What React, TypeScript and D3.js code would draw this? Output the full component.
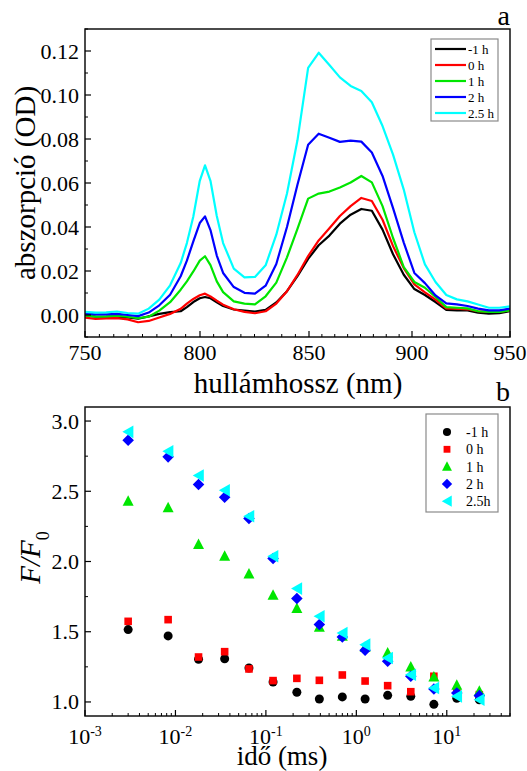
import React from 'react';
import * as d3 from 'd3';

// ---------- Panel a: absorption spectra ----------
const wavelengths = [750,754.6,759.2,763.9,768.5,773.1,777.7,782.3,787.0,791.6,794.3,797.1,799.9,802.3,804.8,807.7,810.6,815.5,820.4,825.2,830.1,835.0,839.9,844.7,849.6,854.7,859.9,865.0,870.2,875.4,880.5,885.7,890.8,896.0,901.2,906.6,912.0,917.5,922.9,928.3,933.7,939.2,944.6,950];
const absM1 = [-0.0002,-0.0007,-0.0008,-0.0007,-0.0011,-0.0017,-0.0006,0.0005,0.0013,0.0017,0.0036,0.0059,0.0076,0.0082,0.0076,0.0058,0.0041,0.0025,0.0020,0.0016,0.0023,0.0057,0.0108,0.0177,0.0255,0.0317,0.0361,0.0415,0.0456,0.0482,0.0474,0.0388,0.0276,0.0183,0.0118,0.0091,0.0059,0.0023,0.0021,0.0021,0.0011,0.0006,0.0008,0.0018];
const absH0 = [-0.0012,-0.0018,-0.0015,-0.0014,-0.0020,-0.0033,-0.0027,-0.0011,0.0005,0.0028,0.0052,0.0073,0.0090,0.0097,0.0084,0.0065,0.0047,0.0026,0.0014,0.0008,0.0017,0.0052,0.0108,0.0182,0.0268,0.0339,0.0394,0.0450,0.0495,0.0532,0.0518,0.0433,0.0313,0.0213,0.0139,0.0103,0.0070,0.0030,0.0029,0.0026,0.0017,0.0014,0.0015,0.0021];
const absH1 = [-0.0002,-0.0007,-0.0006,-0.0003,-0.0008,-0.0014,-0.0008,0.0020,0.0058,0.0115,0.0153,0.0198,0.0247,0.0267,0.0227,0.0153,0.0104,0.0062,0.0052,0.0048,0.0085,0.0147,0.0262,0.0391,0.0529,0.0552,0.0561,0.0580,0.0602,0.0632,0.0603,0.0495,0.0350,0.0218,0.0150,0.0124,0.0082,0.0036,0.0033,0.0030,0.0017,0.0014,0.0014,0.0021];
const absH2 = [0.0006,0.0003,0.0003,0.0005,0.0000,-0.0005,0.0011,0.0044,0.0092,0.0176,0.0247,0.0335,0.0418,0.0448,0.0386,0.0270,0.0191,0.0127,0.0101,0.0097,0.0133,0.0232,0.0400,0.0592,0.0774,0.0824,0.0806,0.0787,0.0793,0.0788,0.0739,0.0632,0.0486,0.0329,0.0191,0.0145,0.0089,0.0053,0.0048,0.0041,0.0029,0.0021,0.0021,0.0029];
const absH25 = [0.0014,0.0011,0.0012,0.0016,0.0009,0.0006,0.0029,0.0070,0.0135,0.0236,0.0327,0.0448,0.0610,0.0680,0.0610,0.0450,0.0327,0.0211,0.0171,0.0173,0.0226,0.0365,0.0552,0.0794,0.1123,0.1192,0.1136,0.1080,0.1041,0.1018,0.0967,0.0859,0.0729,0.0570,0.0376,0.0230,0.0150,0.0091,0.0071,0.0062,0.0048,0.0033,0.0033,0.0039];
const spectraLabels = ['-1 h', '0 h', '1 h', '2 h', '2.5 h'];
const xTicksA = [750, 800, 850, 900, 950];
const yTicksA = [0, 0.02, 0.04, 0.06, 0.08, 0.1, 0.12];

// ---------- Panel b: F/F0 vs time ----------
const times = [0.003, 0.0083, 0.018, 0.035, 0.065, 0.12, 0.22, 0.39, 0.70, 1.25, 2.22, 4.0, 7.2, 12.9, 22.9];
const ffM1 = [1.515,1.470,1.304,1.308,1.242,1.142,1.069,1.021,1.036,1.021,1.047,1.040,0.983,1.026,1.016];
const ffH0 = [1.574,1.586,1.320,1.358,1.235,1.152,1.168,1.154,1.192,1.149,1.116,1.073,1.183,1.076,1.052];
const ffH1 = [2.429,2.382,2.121,2.037,1.911,1.759,1.665,1.532,1.468,1.390,1.349,1.249,1.178,1.119,1.076];
const ffH2 = [2.863,2.745,2.548,2.458,2.306,2.021,1.736,1.551,1.463,1.368,1.290,1.183,1.092,1.064,1.045];
const ffH25 = [2.923,2.785,2.612,2.507,2.322,2.037,1.807,1.610,1.491,1.408,1.313,1.194,1.099,1.040,1.016];
const fluoLabels = ['-1 h', '0 h', '1 h', '2 h', '2.5h'];
const xTicksB = [-3, -2, -1, 0, 1];
const yTicksB = [1.0, 1.5, 2.0, 2.5, 3.0];

const colors = ['#000000', '#ff0000', '#00e600', '#0000ff', '#00ffff'];
const FONT = '"Liberation Serif", "Times New Roman", serif';

const A = { l: 85, r: 510, t: 29, b: 337 };
const B = { l: 85, r: 510, t: 407, b: 716 };
// the reference's wavelength axis is not evenly spaced: tick positions read from it
const xTickPixelsA = [85, 200, 309, 412, 510];

function markerPath(kind: number, s: number): string {
  switch (kind) {
    case 0: return d3.symbol(d3.symbolCircle, s * s * 0.785)() as string;
    case 1: return `M${-s / 2},${-s / 2}H${s / 2}V${s / 2}H${-s / 2}Z`;
    case 2: return `M0,${-s * 0.6}L${s * 0.55},${s * 0.45}L${-s * 0.55},${s * 0.45}Z`;
    case 3: return `M0,${-s * 0.55}L${s * 0.55},0L0,${s * 0.55}L${-s * 0.55},0Z`;
    default: return `M${-s * 0.55},0L${s * 0.5},${-s * 0.6}L${s * 0.5},${s * 0.6}Z`;
  }
}
const markerSizes = [9, 7.6, 10, 10.5, 10.5];

export default function App() {
  const xA = d3.scaleLinear().domain(xTicksA).range(xTickPixelsA);
  const yA = d3.scaleLinear().domain([-0.01, 0.13]).range([A.b, A.t]);
  const xB = d3.scaleLog().domain([1e-3, 50]).range([B.l, B.r]);
  const yB = d3.scaleLinear().domain([0.9, 3.1]).range([B.b, B.t]);

  const spectra = [absM1, absH0, absH1, absH2, absH25];
  const fluo = [ffM1, ffH0, ffH1, ffH2, ffH25];

  const line = d3.line<number>()
    .x((_, i) => xA(wavelengths[i]))
    .y((d) => yA(d));

  const minorXA = d3.range(750, 950.01, 6.25).filter((v) => !xTicksA.includes(v));
  const minorYA = d3.range(-0.01, 0.1301, 0.01).filter((v) => !yTicksA.some((t) => Math.abs(t - v) < 1e-6));
  const minorYB = d3.range(1.25, 3.01, 0.5);
  const minorXB: number[] = [];
  for (let e = -3; e <= 1; e++) for (let m = 2; m <= 9; m++) { const v = m * Math.pow(10, e); if (v <= 50) minorXB.push(v); }

  const tick = '#000';
  return (
    <svg width={527} height={771} style={{ position: 'absolute', left: 0, top: 0, background: '#fff' }} fontFamily={FONT}>
      <defs>
        <clipPath id="clipA"><rect x={A.l} y={A.t} width={A.r - A.l} height={A.b - A.t} /></clipPath>
      </defs>
      {/* ----- Panel a ----- */}
      <g clipPath="url(#clipA)">
        {spectra.map((s, k) => (
          <path key={k} d={line(s) as string} fill="none" stroke={colors[k]} strokeWidth={2.2} strokeLinejoin="round" />
        ))}
      </g>
      <rect x={A.l} y={A.t} width={A.r - A.l} height={A.b - A.t} fill="none" stroke="#111" strokeWidth={1.5} />
      {xTicksA.map((v) => (
        <g key={v}>
          <line x1={xA(v)} x2={xA(v)} y1={A.b} y2={A.b - 6} stroke={tick} strokeWidth={1.2} />
          <text x={xA(v)} y={360} fontSize={22} textAnchor="middle">{v}</text>
        </g>
      ))}
      {minorXA.map((v) => (
        <line key={v} x1={xA(v)} x2={xA(v)} y1={A.b} y2={A.b - 3} stroke={tick} strokeWidth={1} />
      ))}
      {yTicksA.map((v) => (
        <g key={v}>
          <line x1={A.l} x2={A.l + 6} y1={yA(v)} y2={yA(v)} stroke={tick} strokeWidth={1.2} />
          <text x={79} y={yA(v) + 7.5} fontSize={22} textAnchor="end">{v.toFixed(2)}</text>
        </g>
      ))}
      {minorYA.map((v) => (
        <line key={v} x1={A.l} x2={A.l + 3} y1={yA(v)} y2={yA(v)} stroke={tick} strokeWidth={1} />
      ))}
      <text x={298} y={393} fontSize={29} textAnchor="middle">hullámhossz (nm)</text>
      <text transform={`translate(35,${(A.t + A.b) / 2}) rotate(-90)`} fontSize={29} textAnchor="middle">abszorpció (OD)</text>
      <text x={510} y={25} fontSize={28} textAnchor="end">a</text>
      {/* legend a */}
      <rect x={431} y={39} width={67} height={82} fill="#fff" stroke="#8a8a8a" strokeWidth={1.2} />
      {spectraLabels.map((lab, k) => (
        <g key={lab}>
          <line x1={435} x2={466} y1={49 + k * 16} y2={49 + k * 16} stroke={colors[k]} strokeWidth={2.2} />
          <text x={468} y={49 + k * 16 + 4.5} fontSize={13}>{lab}</text>
        </g>
      ))}

      {/* ----- Panel b ----- */}
      {fluo.map((s, k) => (
        <g key={k}>
          {s.map((v, i) => (
            <path key={i} d={markerPath(k, markerSizes[k])} transform={`translate(${xB(times[i])},${yB(v)})`} fill={colors[k]} />
          ))}
        </g>
      ))}
      <rect x={B.l} y={B.t} width={B.r - B.l} height={B.b - B.t} fill="none" stroke="#111" strokeWidth={1.5} />
      {xTicksB.map((e) => (
        <g key={e}>
          <line x1={xB(Math.pow(10, e))} x2={xB(Math.pow(10, e))} y1={B.b} y2={B.b - 6} stroke={tick} strokeWidth={1.2} />
          <text x={xB(Math.pow(10, e))} y={744} fontSize={22} textAnchor="middle">
            10<tspan fontSize={14} dy={-8}>{e}</tspan>
          </text>
        </g>
      ))}
      {minorXB.map((v) => (
        <line key={v} x1={xB(v)} x2={xB(v)} y1={B.b} y2={B.b - 3} stroke={tick} strokeWidth={1} />
      ))}
      {yTicksB.map((v) => (
        <g key={v}>
          <line x1={B.l} x2={B.l + 6} y1={yB(v)} y2={yB(v)} stroke={tick} strokeWidth={1.2} />
          <text x={79} y={yB(v) + 7.5} fontSize={22} textAnchor="end">{v.toFixed(1)}</text>
        </g>
      ))}
      {minorYB.map((v) => (
        <line key={v} x1={B.l} x2={B.l + 3} y1={yB(v)} y2={yB(v)} stroke={tick} strokeWidth={1} />
      ))}
      <text x={282} y={765} fontSize={27} textAnchor="middle">idő (ms)</text>
      <text transform={`translate(40,${(B.t + B.b) / 2 - 4}) rotate(-90)`} fontSize={29} textAnchor="middle" fontStyle="italic">
        F/F<tspan fontSize={18} dy={9} fontStyle="normal">0</tspan>
      </text>
      <text x={510} y={401} fontSize={28} textAnchor="end">b</text>
      {/* legend b */}
      <rect x={426} y={414} width={72} height={98} fill="#fff" stroke="#8a8a8a" strokeWidth={1.2} />
      {fluoLabels.map((lab, k) => (
        <g key={lab}>
          <path d={markerPath(k, markerSizes[k] * 0.9)} transform={`translate(447,${432 + k * 17.3})`} fill={colors[k]} />
          <text x={466} y={432 + k * 17.3 + 5} fontSize={14}>{lab}</text>
        </g>
      ))}
    </svg>
  );
}
